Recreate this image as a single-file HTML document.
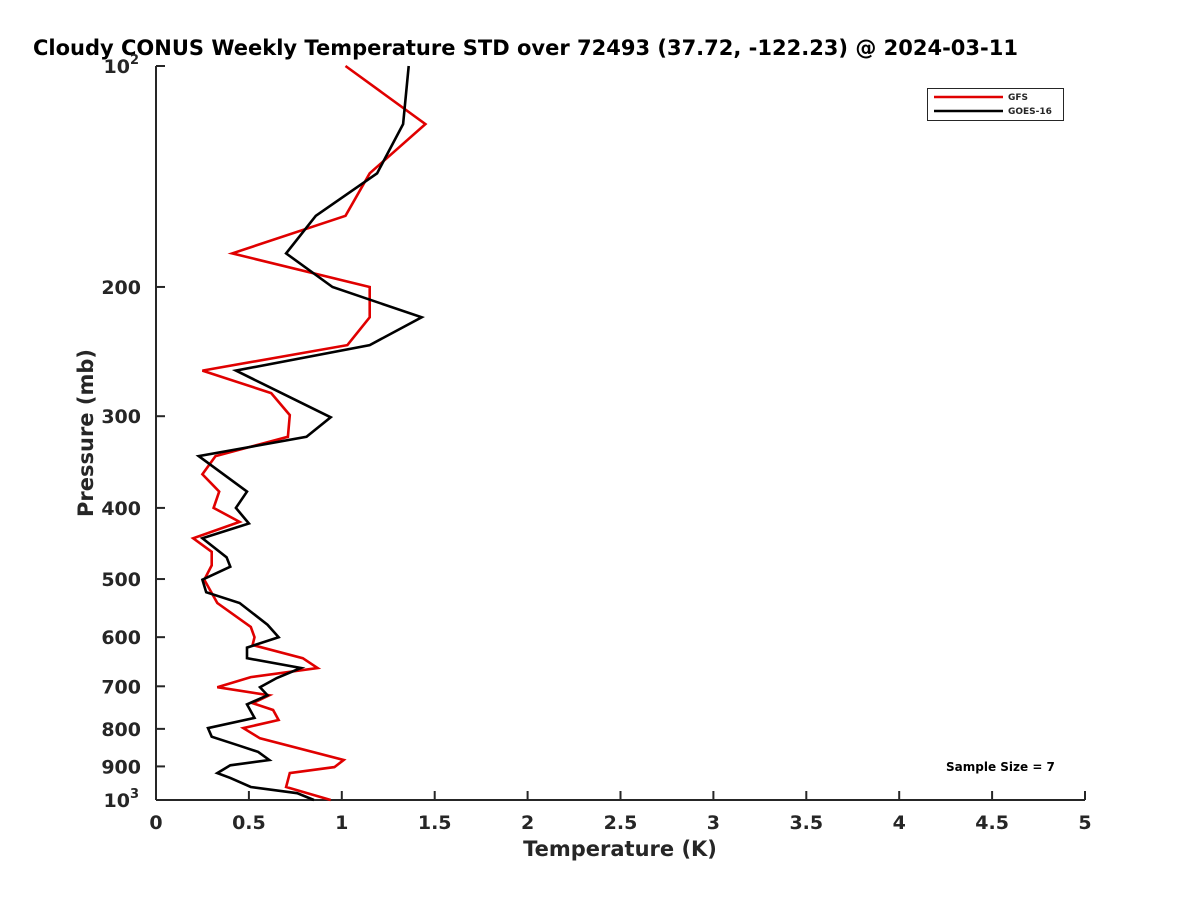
<!DOCTYPE html>
<html><head><meta charset="utf-8"><style>
body{margin:0;background:#fff;}
svg text{font-family:"DejaVu Sans","Liberation Sans",sans-serif;font-weight:bold;fill:#262626;}
</style></head><body>
<svg id="chart" width="1200" height="900" xmlns="http://www.w3.org/2000/svg">
<rect width="1200" height="900" fill="#fff"/>
<text x="33" y="55" font-size="21" style="fill:#000">Cloudy CONUS Weekly Temperature STD over 72493 (37.72, -122.23) @ 2024-03-11</text>
<g id="axes"></g>
<g id="series"></g>
<g>
<rect x="927.5" y="88.5" width="136" height="32" fill="#fff" stroke="#262626" stroke-width="1"/>
<line x1="934" y1="97" x2="1003" y2="97" stroke="#e00000" stroke-width="2.5"/>
<text x="1008" y="100" font-size="9">GFS</text>
<line x1="934" y1="111" x2="1003" y2="111" stroke="#000" stroke-width="2.5"/>
<text x="1008" y="114" font-size="9">GOES-16</text>
</g>
<text x="946" y="771" font-size="12" style="fill:#000">Sample Size = 7</text>
<text x="620" y="856" font-size="21" text-anchor="middle">Temperature (K)</text>
<text transform="translate(93,433) rotate(-90)" font-size="21" text-anchor="middle">Pressure (mb)</text>
</svg>
<script>
const xTicks=[0,0.5,1,1.5,2,2.5,3,3.5,4,4.5,5];
const yTicks=[100,200,300,400,500,600,700,800,900,1000];
const gfsTemp=[1.02,1.45,1.15,1.02,0.41,1.15,1.15,1.03,0.25,0.62,0.72,0.71,0.32,0.25,0.34,0.31,0.45,0.20,0.30,0.30,0.26,0.33,0.51,0.53,0.52,0.79,0.87,0.51,0.33,0.61,0.52,0.63,0.66,0.47,0.56,1.01,0.96,0.72,0.70,0.94];
const gfsPres=[100,120,140,160,180,200,220,240,260,279,299,320,340,360,380,400,418,440,459,479,501,539,581,600,615,641,661,680,702,720,738,754,778,798,824,882,902,919,960,1000];
const goesTemp=[1.36,1.33,1.19,0.86,0.70,0.95,1.43,1.15,0.43,0.94,0.81,0.23,0.49,0.43,0.50,0.25,0.38,0.40,0.25,0.27,0.45,0.60,0.66,0.49,0.49,0.78,0.65,0.56,0.60,0.49,0.53,0.28,0.30,0.44,0.55,0.61,0.40,0.33,0.40,0.51,0.76,0.85];
const goesPres=[100,120,140,160,180,200,220,240,260,301,320,340,380,400,420,440,467,481,501,521,539,577,600,620,641,661,682,702,720,741,773,798,820,842,860,882,897,919,933,960,979,1000];
const X0=156,X1=1085,Y0=66,Y1=800;
function xs(v){return X0+(v/5)*(X1-X0);}
function ys(p){return Y0+(Math.log10(p)-2)*(Y1-Y0);}
const NS='http://www.w3.org/2000/svg';
const axes=document.getElementById('axes');
function mk(tag,attrs,parent){const e=document.createElementNS(NS,tag);for(const k in attrs)e.setAttribute(k,attrs[k]);parent.appendChild(e);return e;}
const ya=mk('line',{x1:X0,y1:Y0,x2:X0,y2:Y1,stroke:'#262626','stroke-width':2},axes);


const xa=mk('line',{x1:X0,y1:Y1,x2:X1,y2:Y1,stroke:'#262626','stroke-width':2},axes);


xTicks.forEach(v=>{
 const t=mk('line',{x1:xs(v),y1:Y1,x2:xs(v),y2:Y1-9,stroke:'#262626','stroke-width':2},axes);
 
 
 const l=mk('text',{x:xs(v),y:Y1+29,'font-size':19,'text-anchor':'middle'},axes);
 l.textContent=String(v);
 
 
});
yTicks.forEach(p=>{
 const t=mk('line',{x1:X0,y1:ys(p),x2:X0+9,y2:ys(p),stroke:'#262626','stroke-width':2},axes);
 
 
 const l=mk('text',{x:X0-15,y:ys(p)+7,'font-size':19,'text-anchor':'end'},axes);
 
 
 if(p===100||p===1000){
  l.setAttribute('x',X0-26);
  l.textContent='10';
  const s=mk('text',{x:X0-26,y:ys(p)-2,'font-size':13},axes);
  s.textContent=p===100?'2':'3';
  
  
 } else l.textContent=String(p);
});
const ser=document.getElementById('series');
function line(T,P,color,name){
 const pts=T.map((t,i)=>xs(t).toFixed(1)+','+ys(P[i]).toFixed(1)).join(' ');
 const pl=mk('polyline',{points:pts,fill:'none',stroke:color,'stroke-width':2.6,'stroke-linejoin':'miter'},ser);
 
 
}
line(gfsTemp,gfsPres,'#e00000','gfs-line');
line(goesTemp,goesPres,'#000000','goes16-line');
</script>
</body></html>
